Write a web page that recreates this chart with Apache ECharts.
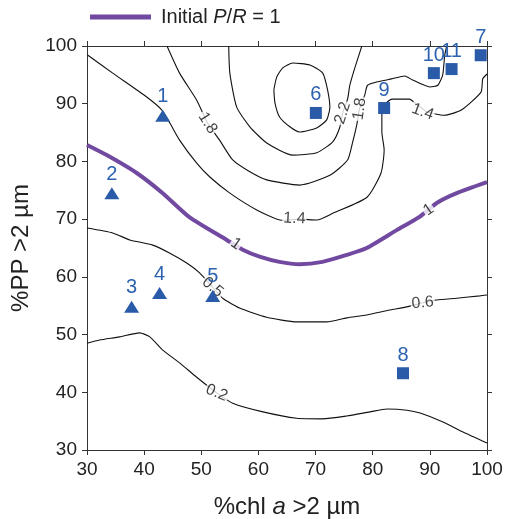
<!DOCTYPE html>
<html><head><meta charset="utf-8">
<script src="https://cdn.jsdelivr.net/npm/echarts@6/dist/echarts.min.js"></script>
<style>html,body{margin:0;padding:0;background:#fff}#c{width:508px;height:519px}</style>
</head><body><div id="c"></div>
<script>
// ---- data ----
const xMin = 30, xMax = 100, xStep = 10;
const yMin = 30, yMax = 100, yStep = 10;

const stationIds   = ['1','2','3','4','5','6','7','8','9','10','11'];
const stationX     = [43.25, 34.35, 37.8, 42.7, 52.0, 70.05, 98.9, 85.3, 82.0, 90.7, 93.8];
const stationY     = [87.9, 74.5, 54.8, 57.2, 56.7, 88.4, 98.4, 43.3, 89.25, 95.3, 96.0];
const stationShape = ['triangle','triangle','triangle','triangle','triangle','rect','rect','rect','rect','rect','rect'];

const initialPR1 = [[30,82.85],[33.45,81.1],[38.7,78.0],[43.25,74.5],[47.97,70.3],[54.45,66.4],[57.25,64.7],[60.2,63.5],[63.7,62.6],[67.2,62.2],[71.2,62.6],[75.45,63.8],[78.95,65.0],[84.2,68.1],[88.2,70.4],[91.2,72.8],[94.7,74.5],[100,76.4]];

const contour14 = [[30.1,98.44],[34.5,95.3],[40.45,91.16],[43.1,88.9],[44.5,86.66],[46.2,83.7],[49.2,79.7],[51.5,77.3],[55.0,74.5],[59.7,71.6],[64.25,69.8],[67.2,70.0],[70.2,69.85],[73.2,71.1],[79.0,73.8],[81.45,78.0],[82.0,82.0],[81.6,85.1],[81.6,89.1],[83.4,90.8],[86.4,90.8],[87.8,89.8],[89.5,88.6],[92.5,88.0],[95.5,88.9],[98.95,92.0],[99.25,94.3],[100,95.15]];

const contour18 = [[44.0,100],[46.2,95.3],[49.2,90.6],[51.1,86.66],[53.2,83.7],[55.5,80.25],[58.5,78.2],[61.45,76.8],[67.2,75.9],[72.5,77.6],[75.6,80.25],[76.5,83.4],[77.2,86.3],[77.7,89.1],[78.6,91.5],[79.1,93.2],[80.9,93.8],[83.3,94.3],[85.6,94.8],[87.0,94.1],[90.0,92.9],[91.4,93.2],[92.25,95.0],[92.6,98.4],[92.95,100]];

const contour22 = [[54.8,100],[55.0,95.3],[56.2,89.4],[58.5,86.0],[61.45,83.2],[66.0,81.1],[70.2,81.5],[73.0,83.4],[74.2,85.8],[74.75,88.4],[75.6,90.8],[76.0,93.2],[76.8,96.0],[78.1,100]];

const contourInner = [[62.7,92.4],[63.2,94.6],[64.25,96.2],[66.0,97.05],[69.0,96.7],[71.25,95.3],[72.1,92.4],[72.5,89.4],[71.95,87.2],[70.2,85.8],[67.2,85.1],[65.5,86.0],[63.7,87.7],[62.9,90.1],[62.7,92.4]];

const contour06 = [[30,68.46],[34.5,67.6],[37.5,66.4],[41.5,65.5],[44.5,64.1],[47.45,62.4],[49.7,60.7],[52.0,58.2],[53.75,56.3],[56.7,54.6],[61.45,53.0],[66.7,52.2],[71.95,52.2],[75.45,52.9],[78.95,53.4],[82.95,54.25],[85.95,54.8],[88.75,55.5],[91.2,56.0],[94.7,56.3],[98.75,56.7],[100,56.85]];

const contour02 = [[30,48.5],[32.2,49.05],[35.7,49.6],[39.2,50.3],[41.0,49.6],[43.25,47.3],[46.2,45.1],[49.2,42.6],[52.7,39.9],[55.5,38.1],[60.8,36.6],[66.7,35.5],[71.2,35.4],[75.45,35.9],[79.5,36.6],[82.5,37.1],[86.0,36.9],[88.3,36.4],[92.3,34.85],[95.8,33.1],[100,31.2]];

const contourLabelText  = ['1.8','1.4','2.2','1.8','1.4','1','1','0.5','0.6','0.2'];
const contourLabelX     = [51.1, 66.3, 74.75, 77.7, 88.75, 56.05, 89.8, 52.0, 88.75, 52.7];
const contourLabelY     = [86.66, 70.1, 88.4, 89.1, 88.6, 65.7, 71.6, 58.2, 55.5, 39.9];
const contourLabelAngle = [-58, -3, 72, 82, -20, -35, 35, -40, 5, -22];

// ---- chart ----
const FONT = 'Liberation Sans, Arial, Helvetica, sans-serif';
const BLUE = '#2a5ba8';
const PURPLE = '#7149a0';
const INK = '#222';
const chart = echarts.init(document.getElementById('c'), null, {renderer: 'canvas'});

const blackLine = (data) => ({
  type: 'line', data: data, showSymbol: false, symbol: 'none', smooth: 0.2,
  lineStyle: {color: '#111', width: 1.1}, z: 2, silent: true, xAxisIndex: 0, yAxisIndex: 0
});

const labelData = contourLabelText.map((t, i) => ({
  value: [contourLabelX[i], contourLabelY[i]],
  label: {rotate: contourLabelAngle[i], formatter: t}
}));

const stationData = stationIds.map((id, i) => ({
  value: [stationX[i], stationY[i]],
  name: id,
  symbol: stationShape[i],
  symbolSize: stationShape[i] === 'triangle' ? [15, 12] : 12,
  label: {distance: stationShape[i] === 'triangle' ? 3 : 2}
}));

const axisCommon = {
  type: 'value', min: xMin, max: xMax, interval: xStep,
  axisLine: {show: true, onZero: false, lineStyle: {color: '#333', width: 1}},
  axisTick: {show: true, inside: false, length: 5, lineStyle: {color: '#333'}},
  splitLine: {show: false}
};

chart.setOption({
  animation: false,
  backgroundColor: '#fff',
  textStyle: {fontFamily: FONT},
  grid: {left: 87, right: 21, top: 46, bottom: 69, containLabel: false, outerBoundsMode: 'none'},
  legend: {
    left: 90, top: 7, padding: 0, icon: 'rect', itemWidth: 61, itemHeight: 5,
    data: ['Initial P/R = 1'],
    formatter: () => '{g|}{n|Initial }{i|P}{n|/}{i|R}{n| = 1}',
    textStyle: {
      fontFamily: FONT, fontSize: 20, color: INK,
      rich: {
        g: {width: 5},
        n: {fontFamily: FONT, fontSize: 20, color: INK},
        i: {fontFamily: FONT, fontSize: 20, color: INK, fontStyle: 'italic'}
      }
    }
  },
  xAxis: [
    Object.assign({}, axisCommon, {
      position: 'bottom',
      axisLabel: {show: true, fontSize: 19, color: INK, margin: 10, fontFamily: FONT},
      name: '{n|%chl }{i|a}{n| >2 µm}', nameLocation: 'middle', nameGap: 45,
      nameTextStyle: {fontSize: 24, color: INK, fontFamily: FONT,
        rich: {n: {fontSize: 24, color: INK, fontFamily: FONT}, i: {fontSize: 24, color: INK, fontFamily: FONT, fontStyle: 'italic'}}}
    }),
    Object.assign({}, axisCommon, {position: 'top', axisLabel: {show: false}})
  ],
  yAxis: [
    Object.assign({}, axisCommon, {
      min: yMin, max: yMax, interval: yStep, position: 'left',
      axisLabel: {show: true, fontSize: 19, color: INK, margin: 10, fontFamily: FONT},
      name: '%PP >2 µm', nameLocation: 'middle', nameGap: 54, nameRotate: 90,
      nameTextStyle: {fontSize: 24, color: INK, fontFamily: FONT}
    }),
    Object.assign({}, axisCommon, {min: yMin, max: yMax, interval: yStep, position: 'right', axisLabel: {show: false}})
  ],
  series: [
    blackLine(contour14),
    blackLine(contour18),
    blackLine(contour22),
    blackLine(contourInner),
    blackLine(contour06),
    blackLine(contour02),
    {
      name: 'Initial P/R = 1', type: 'line', data: initialPR1, showSymbol: false, symbol: 'none', smooth: 0.2,
      lineStyle: {color: PURPLE, width: 4}, itemStyle: {color: PURPLE}, z: 3, silent: true
    },
    {
      type: 'scatter', data: labelData, symbolSize: 1, itemStyle: {color: 'rgba(0,0,0,0)'}, z: 4, silent: true,
      label: {show: true, position: 'inside', fontSize: 16, color: '#111', fontFamily: FONT,
        backgroundColor: '#fff', padding: [0, 1]}
    },
    {
      type: 'scatter', data: stationData, itemStyle: {color: BLUE, opacity: 1}, z: 5, silent: true,
      label: {show: true, position: 'top', formatter: '{b}', fontSize: 20, color: '#2d62b0', fontFamily: FONT}
    }
  ]
});
</script>
</body></html>
